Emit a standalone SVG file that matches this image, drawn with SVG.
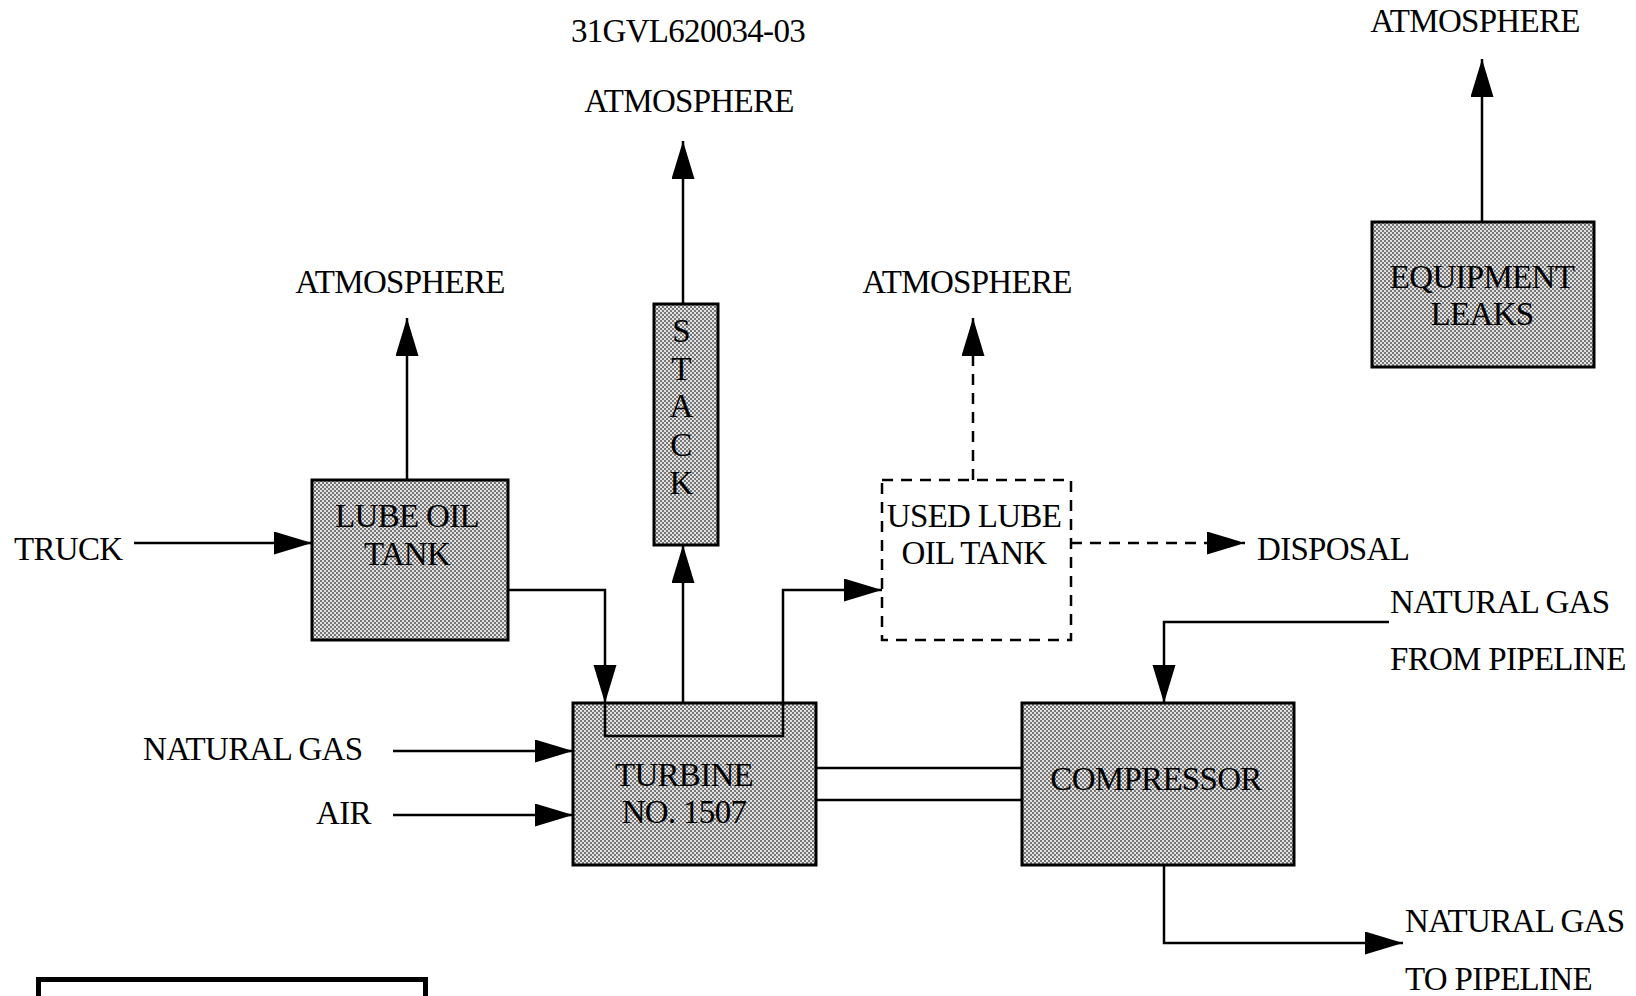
<svg xmlns="http://www.w3.org/2000/svg" width="1636" height="996" viewBox="0 0 1636 996">
<defs>
<pattern id="dots" width="4" height="4" patternUnits="userSpaceOnUse">
<rect width="4" height="4" fill="#e2e2e2"/>
<rect x="0" y="0" width="2" height="2" fill="#777"/>
<rect x="2" y="2" width="2" height="2" fill="#777"/>
</pattern>
<marker id="arr" markerUnits="userSpaceOnUse" markerWidth="40" markerHeight="24" refX="38" refY="11.5" orient="auto">
<path d="M0,0 L38,11.5 L0,23 Z" fill="#000"/>
</marker>
</defs>
<style>
text{font-family:"Liberation Serif","Times New Roman",serif;font-size:33px;letter-spacing:-0.7px;fill:#000}
.c{text-anchor:middle}
.box{fill:url(#dots);stroke:#000;stroke-width:3}
.dbox{fill:none;stroke:#000;stroke-width:2.5;stroke-dasharray:11 8}
.ln{fill:none;stroke:#000;stroke-width:2.5}
.dl{fill:none;stroke:#000;stroke-width:2.5;stroke-dasharray:11 8}
</style>
<rect width="1636" height="996" fill="#fff"/>

<g id="labels">
<text class="c" x="688" y="42">31GVL620034-03</text>
<text class="c" x="689" y="112">ATMOSPHERE</text>
<text class="c" x="400" y="293">ATMOSPHERE</text>
<text class="c" x="967" y="293">ATMOSPHERE</text>
<text class="c" x="1475" y="32">ATMOSPHERE</text>
<text x="14" y="560">TRUCK</text>
<text x="143" y="760">NATURAL GAS</text>
<text x="316" y="824">AIR</text>
<text x="1257" y="560">DISPOSAL</text>
<text x="1390" y="613">NATURAL GAS</text>
<text x="1390" y="670">FROM PIPELINE</text>
<text x="1405" y="932">NATURAL GAS</text>
<text x="1405" y="990">TO PIPELINE</text>
</g>

<g id="lube-oil-tank">
<rect class="box" x="312" y="480" width="196" height="160"/>
<text class="c" x="407" y="527">LUBE OIL</text>
<text class="c" x="407" y="565">TANK</text>
</g>

<g id="stack">
<rect class="box" x="654" y="304" width="64" height="241"/>
<text class="c" x="681" y="342">S</text>
<text class="c" x="681" y="380">T</text>
<text class="c" x="681" y="417">A</text>
<text class="c" x="681" y="456">C</text>
<text class="c" x="681" y="494">K</text>
</g>

<g id="used-lube-oil-tank">
<rect class="dbox" x="882" y="480" width="189" height="160"/>
<text class="c" x="974" y="527">USED LUBE</text>
<text class="c" x="974" y="564">OIL TANK</text>
</g>

<g id="turbine">
<rect class="box" x="573" y="703" width="243" height="162"/>
<text class="c" x="684" y="786">TURBINE</text>
<text class="c" x="684" y="823">NO. 1507</text>
</g>

<g id="compressor">
<rect class="box" x="1022" y="703" width="272" height="162"/>
<text class="c" x="1156" y="790">COMPRESSOR</text>
</g>

<g id="equipment-leaks">
<rect class="box" x="1372" y="222" width="222" height="145"/>
<text class="c" x="1482" y="288">EQUIPMENT</text>
<text class="c" x="1482" y="325">LEAKS</text>
</g>

<g id="frame">
<rect x="38.5" y="979.5" width="387" height="40" fill="none" stroke="#000" stroke-width="5"/>
</g>

<g id="connectors">
<path class="ln" d="M407,480 V318" marker-end="url(#arr)"/>
<path class="ln" d="M683,304 V141" marker-end="url(#arr)"/>
<path class="ln" d="M683,703 V545" marker-end="url(#arr)"/>
<path class="dl" d="M973,480 V318" marker-end="url(#arr)"/>
<path class="dl" d="M1071,543 H1245" marker-end="url(#arr)"/>
<path class="ln" d="M134,543 H312" marker-end="url(#arr)"/>
<path class="ln" d="M508,590 H605 V703" marker-end="url(#arr)"/>
<path class="ln" d="M605,703 V736 H783 V590 H882" marker-end="url(#arr)"/>
<path class="ln" d="M393,751 H573" marker-end="url(#arr)"/>
<path class="ln" d="M393,815 H573" marker-end="url(#arr)"/>
<path class="ln" d="M816,768 H1022"/>
<path class="ln" d="M816,800 H1022"/>
<path class="ln" d="M1389,622 H1164 V703" marker-end="url(#arr)"/>
<path class="ln" d="M1164,865 V943 H1403" marker-end="url(#arr)"/>
<path class="ln" d="M1482,222 V59" marker-end="url(#arr)"/>
</g>
</svg>
